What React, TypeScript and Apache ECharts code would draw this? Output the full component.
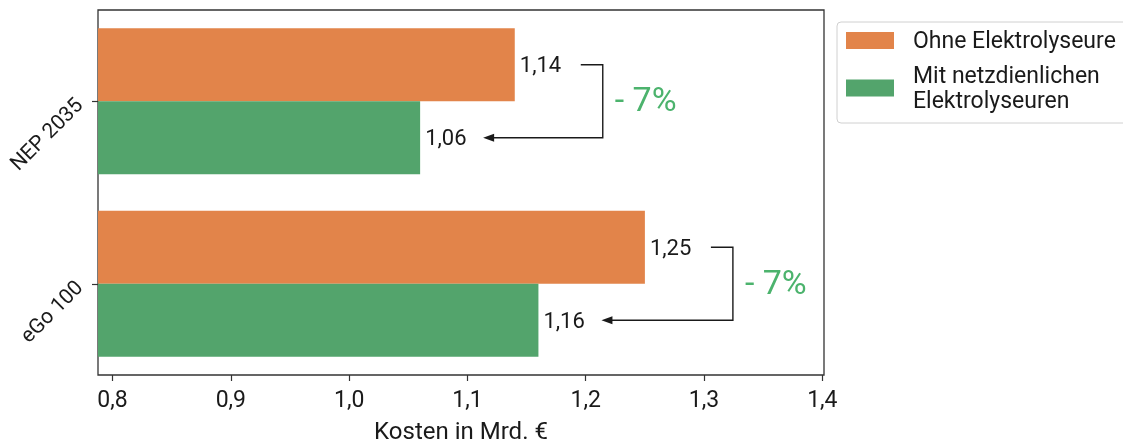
import React, { useEffect, useRef } from "react";
import * as echarts from "echarts";

// Scenarios and costs (bn €)
const categories = ["NEP 2035", "eGo 100"];
const seriesNames = ["Ohne Elektrolyseure", "Mit netzdienlichen\nElektrolyseuren"];
const costsWithout = [1.14, 1.25];
const costsWith = [1.06, 1.16];
const xTicks = [0.8, 0.9, 1.0, 1.1, 1.2, 1.3, 1.4];
const xMin = 0.7877;
const xMax = 1.4014;

const ORANGE = "#e2844a";
const GREEN = "#53a46c";
const PCT_GREEN = "#4cb36d";
const FONT = "Roboto";

const fmt = (v: number, digits: number) => v.toFixed(digits).replace(".", ",");

export default function App() {
  const ref = useRef<HTMLDivElement>(null);

  useEffect(() => {
    if (!ref.current) return;
    const chart = echarts.init(ref.current, undefined, { renderer: "svg" });

    const valueLabel = {
      show: true,
      position: "right" as const,
      distance: 5,
      fontFamily: FONT,
      fontSize: 22,
      color: "#1a1a1a",
      formatter: (p: any) => fmt(p.value as number, 2),
    };

    chart.setOption({
      animation: false,
      textStyle: { fontFamily: FONT },
      grid: {
        left: 98,
        top: 10,
        width: 726,
        height: 370,
        show: true,
        borderColor: "#333",
        borderWidth: 1.3,
        backgroundColor: "transparent",
      },
      legend: {
        orient: "vertical",
        left: 837,
        top: 22,
        data: seriesNames,
        icon: "rect",
        itemWidth: 48,
        itemHeight: 17,
        itemGap: 10,
        padding: [6, 30, 10, 9],
        borderColor: "#d0d0d0",
        borderWidth: 1,
        borderRadius: 4,
        textStyle: {
          fontFamily: FONT,
          fontSize: 23,
          lineHeight: 25,
          color: "#1a1a1a",
          padding: [0, 0, 0, 14],
        },
      },
      xAxis: {
        type: "value",
        min: xMin,
        max: xMax,
        name: "Kosten in Mrd. €",
        nameLocation: "middle",
        nameGap: 44,
        nameTextStyle: { fontFamily: FONT, fontSize: 24, color: "#1a1a1a" },
        splitLine: { show: false },
        axisLine: { show: false },
        axisTick: {
          show: true,
          length: 6,
          customValues: xTicks,
          lineStyle: { color: "#333", width: 1.2 },
        },
        axisLabel: {
          customValues: xTicks,
          margin: 13,
          fontFamily: FONT,
          fontSize: 23,
          color: "#1a1a1a",
          formatter: (v: number) => fmt(v, 1),
        },
      },
      yAxis: {
        type: "category",
        data: categories,
        inverse: true,
        axisLine: { show: false },
        axisTick: {
          show: true,
          length: 6,
          alignWithLabel: true,
          lineStyle: { color: "#333", width: 1.2 },
        },
        axisLabel: {
          rotate: 45,
          margin: 19,
          fontFamily: FONT,
          fontSize: 21,
          color: "#1a1a1a",
        },
      },
      series: [
        {
          name: seriesNames[0],
          type: "bar",
          data: costsWithout,
          barGap: "0%",
          barCategoryGap: "20%",
          itemStyle: { color: ORANGE },
          label: valueLabel,
        },
        {
          name: seriesNames[1],
          type: "bar",
          data: costsWith,
          barGap: "0%",
          barCategoryGap: "20%",
          itemStyle: { color: GREEN },
          label: valueLabel,
        },
      ],
    });

    // Brackets with arrows and relative change, placed from the data via the axes
    const toPx = (x: number, i: number) =>
      chart.convertToPixel({ gridIndex: 0 }, [x, i]) as number[];
    const band = toPx(1, 1)[1] - toPx(1, 0)[1];
    const elements: any[] = [];
    categories.forEach((_, i) => {
      const [xo, cy] = toPx(costsWithout[i], i);
      const [xg] = toPx(costsWith[i], i);
      const yo = cy - band * 0.2;
      const yg = cy + band * 0.2;
      const stub = xo + 66;
      const corner = xo + 88;
      const tip = xg + 63;
      elements.push({
        type: "polyline",
        shape: {
          points: [
            [stub, yo],
            [corner, yo],
            [corner, yg],
            [tip + 10, yg],
          ],
        },
        style: { stroke: "#1a1a1a", lineWidth: 1.4, fill: null },
        silent: true,
      });
      elements.push({
        type: "polygon",
        shape: {
          points: [
            [tip, yg],
            [tip + 11, yg - 4],
            [tip + 11, yg + 4],
          ],
        },
        style: { fill: "#1a1a1a" },
        silent: true,
      });
      const pct = Math.round(((costsWith[i] - costsWithout[i]) / costsWithout[i]) * 100);
      elements.push({
        type: "text",
        x: corner + 12,
        y: cy - 2,
        style: {
          text: `${pct < 0 ? "-" : "+"} ${Math.abs(pct)}%`,
          fontFamily: FONT,
          fontSize: 34,
          fill: PCT_GREEN,
          verticalAlign: "middle",
          align: "left",
        },
        silent: true,
      });
    });
    chart.setOption({ graphic: elements });

    return () => chart.dispose();
  }, []);

  return (
    <div
      ref={ref}
      style={{ position: "fixed", left: 0, top: 0, width: 1123, height: 448 }}
    />
  );
}
